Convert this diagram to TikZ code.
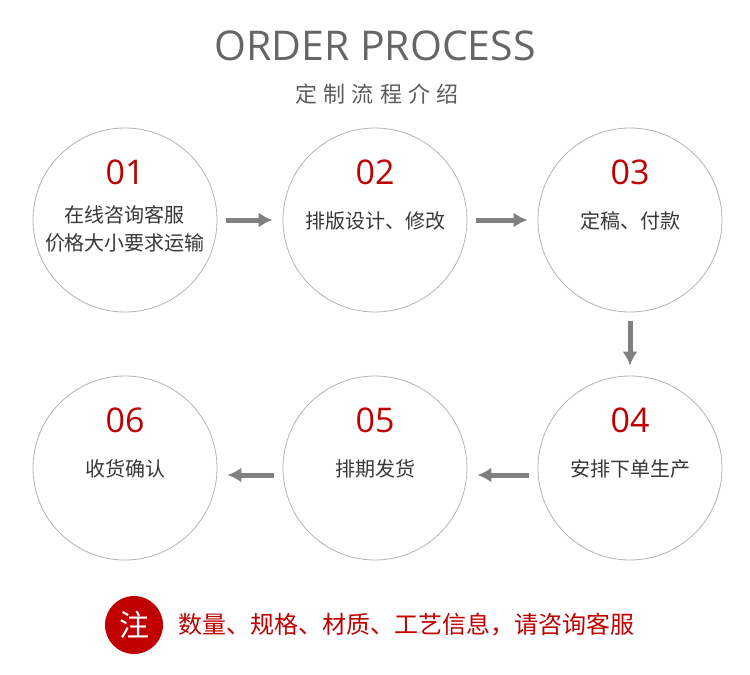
\documentclass[tikz,border=0pt]{standalone}
\usepackage{fontspec}
\setmainfont{Open Sans}
\newfontfamily\cjk{Noto Sans CJK SC}
\newfontfamily\cjkwide{Noto Sans CJK SC}[LetterSpace=28]
\usetikzlibrary{arrows.meta,positioning}
\definecolor{numred}{HTML}{C00000}
\definecolor{ringgray}{HTML}{B4B4B4}
\definecolor{arrowgray}{HTML}{808080}
\definecolor{textgray}{HTML}{383838}
\definecolor{titlegray}{HTML}{666666}
\begin{document}
\begin{tikzpicture}
  [x=1pt,y=-1pt,
   stage/.style={circle,draw=ringgray,line width=0.8pt,minimum size=184pt,inner sep=0pt},
   num/.style={text=numred,font=\fontsize{34}{40}\selectfont},
   label/.style={text=textgray,font=\cjk\fontsize{20}{28}\selectfont,align=center},
   flow/.style={draw=arrowgray,line width=5pt,-{Latex[length=14pt,width=15pt]},
     shorten <=9pt,shorten >=10pt}]
  \useasboundingbox[fill=white] (0,0) rectangle (750,675);

  \node[text=titlegray,font=\fontsize{41}{48}\selectfont] (title) at (375,46) {ORDER PROCESS};
  \node[text=titlegray!90!black,font=\cjkwide\fontsize{22}{26}\selectfont] (sub) at (377,94) {定制流程介绍};

  \node[stage] (c1) at (125,220) {};
  \node[stage] (c2) at (375,220) {};
  \node[stage] (c3) at (630,220) {};
  \node[stage] (c4) at (630,468) {};
  \node[stage] (c5) at (375,468) {};
  \node[stage] (c6) at (125,468) {};

  \node[num] (n1) at (125,172) {01};
  \node[num] (n2) at (375,172) {02};
  \node[num] (n3) at (630,172) {03};
  \node[num] (n4) at (630,420) {04};
  \node[num] (n5) at (375,420) {05};
  \node[num] (n6) at (125,420) {06};

  \node[label] (l1) at (125,229) {在线咨询客服\\价格大小要求运输};
  \node[label] (l2) at (375,221) {排版设计、修改};
  \node[label] (l3) at (630,221) {定稿、付款};
  \node[label] (l4) at (630,469) {安排下单生产};
  \node[label] (l5) at (375,469) {排期发货};
  \node[label] (l6) at (125,469) {收货确认};

  \foreach \from/\to in {c1/c2,c2/c3,c3/c4}
    \draw[flow] (\from) -- (\to);
  \foreach \from/\to in {c4/c5,c5/c6}
    \draw[flow] ([yshift=-7pt]\from.west) -- ([yshift=-7pt]\to.east);

  \node[circle,fill=numred,minimum size=58pt,inner sep=0pt,text=white,
    font=\cjk\fontsize{30}{32}\selectfont] (mark) at (134,625) {注};
  \node[right=12pt of mark,text=numred,font=\cjk\fontsize{24}{28}\selectfont] (note)
    {数量、规格、材质、工艺信息，请咨询客服};

\end{tikzpicture}
\end{document}
